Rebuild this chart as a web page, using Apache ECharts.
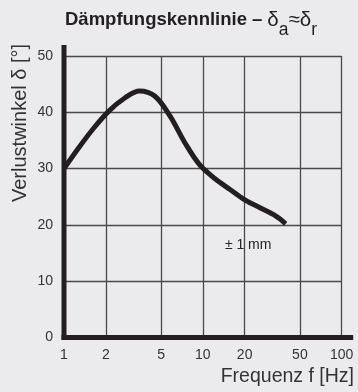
<!DOCTYPE html>
<html>
<head>
<meta charset="utf-8">
<script src="https://cdn.jsdelivr.net/npm/echarts@6/dist/echarts.min.js"></script>
<style>
  html, body { margin: 0; padding: 0; background: #ebebed; }
  #chart { width: 358px; height: 392px; }
</style>
</head>
<body>
<div id="chart"></div>
<script>
// Damping curve: loss angle vs. frequency (amplitude ±1 mm)
const freqHz = [1, 1.285, 1.651, 2.121, 2.725, 3.5, 4.5, 5.78, 7.42, 9.54, 12.25, 15.7, 20.2, 26, 33.4, 39.5];
const lossAngleDeg = [30, 33.8, 37.3, 40.3, 42.5, 43.8, 42.9, 39.4, 34.6, 30.6, 28.2, 26.3, 24.4, 23.0, 21.6, 20.2];
const xTicks = [1, 2, 5, 10, 20, 50, 100];
const yTicks = [0, 10, 20, 30, 40, 50];
const amplitudeLabel = '± 1 mm';
const amplitudeLabelPos = [21.2, 16.4];

const font = '"Liberation Sans", Arial, Helvetica, sans-serif';
const ink = '#231f20';
const gridColor = '#4a4a4a';

const chart = echarts.init(document.getElementById('chart'), null, { renderer: 'canvas' });

const option = {
  backgroundColor: '#ebebed',
  animation: false,
  title: {
    text: '{b|Dämpfungskennlinie –} {n|δ}{s|a}{n|≈δ}{s|r}',
    left: 60,
    top: 5,
    textStyle: {
      rich: {
        b: { fontFamily: font, fontSize: 18.5, fontWeight: 'bold', color: ink, verticalAlign: 'top', lineHeight: 22 },
        n: { fontFamily: font, fontSize: 20.5, fontWeight: 'normal', color: ink, verticalAlign: 'top', lineHeight: 22 },
        s: { fontFamily: font, fontSize: 17.5, fontWeight: 'normal', color: ink, verticalAlign: 'bottom', lineHeight: 22 }
      },
      lineHeight: 29
    }
  },
  grid: { left: 64, right: 16.3, top: 56, bottom: 54.5, containLabel: false },
  xAxis: {
    type: 'log',
    logBase: 10,
    min: 1,
    max: 100,
    axisLine: { show: false },
    axisTick: { show: false, customValues: xTicks },
    axisLabel: {
      customValues: xTicks,
      fontFamily: font, fontSize: 14, color: '#333', margin: 11
    },
    splitLine: { show: true, lineStyle: { color: gridColor, width: 1.3 } },
    minorSplitLine: { show: false }
  },
  yAxis: {
    type: 'value',
    min: 0,
    max: 50,
    interval: 10,
    axisLine: { show: false },
    axisTick: { show: false },
    axisLabel: { fontFamily: font, fontSize: 14, color: '#333', margin: 11 },
    splitLine: { show: true, lineStyle: { color: gridColor, width: 1.3 } }
  },
  series: [{
    type: 'line',
    data: freqHz.map((f, i) => [f, lossAngleDeg[i]]),
    smooth: 0.35,
    showSymbol: false,
    symbol: 'none',
    lineStyle: { color: ink, width: 5, cap: 'butt', join: 'round' },
    z: 5,
    markPoint: {
      symbol: 'circle',
      symbolSize: 0,
      data: [{ coord: amplitudeLabelPos }],
      label: {
        show: true,
        position: 'inside',
        formatter: amplitudeLabel,
        fontFamily: font, fontSize: 14, color: '#222'
      }
    }
  }]
};

chart.setOption(option);

// Heavy axis lines (extend a little beyond the plot box) and axis names
const origin = chart.convertToPixel({ gridIndex: 0 }, [1, 0]);
const corner = chart.convertToPixel({ gridIndex: 0 }, [100, 50]);

chart.setOption({
  graphic: [
    {
      type: 'line',
      shape: { x1: origin[0] - 2.5, y1: origin[1], x2: corner[0] + 11.5, y2: origin[1] },
      style: { stroke: ink, lineWidth: 5 },
      z: 10
    },
    {
      type: 'line',
      shape: { x1: origin[0], y1: origin[1] + 2.5, x2: origin[0], y2: corner[1] - 11 },
      style: { stroke: ink, lineWidth: 5 },
      z: 10
    },
    {
      type: 'text',
      x: 10,
      y: 202,
      rotation: Math.PI / 2,
      style: {
        text: 'Verlustwinkel δ [°]',
        font: '20px ' + font,
        fill: '#333',
        textAlign: 'left',
        textVerticalAlign: 'top'
      },
      z: 10
    },
    {
      type: 'text',
      x: 354,
      y: 387,
      style: {
        text: 'Frequenz f [Hz]',
        font: '19.5px ' + font,
        fill: '#333',
        textAlign: 'right',
        textVerticalAlign: 'bottom'
      },
      z: 10
    }
  ]
});
</script>
</body>
</html>
